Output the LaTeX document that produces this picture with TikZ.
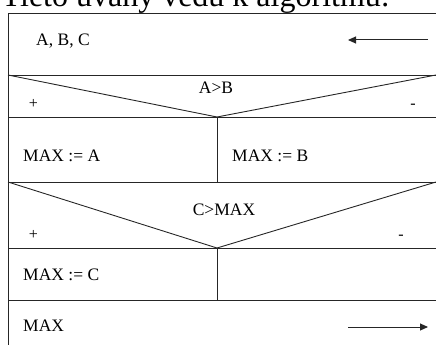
\documentclass[tikz,border=0pt]{standalone}
\usepackage{fontspec}
\setmainfont{Liberation Serif}
\usetikzlibrary{arrows.meta}
\tikzset{
  grid/.style={line width=0.9pt, draw=black!85},
  lbl/.style={inner sep=0pt, font=\fontsize{17.5}{19}\selectfont},
  sign/.style={inner sep=0pt, font=\fontsize{16}{17}\selectfont},
  flow/.style={line width=1pt, draw=black!85, -{Triangle[length=8pt,width=7pt]}}
}
\begin{document}
\begin{tikzpicture}[x=1pt,y=-1pt]
\useasboundingbox (0,0) rectangle (436,345);
% heading line (partly above the page edge)
\node[inner sep=0pt, anchor=base east, font=\fontsize{32}{35}\selectfont] (title) at (390,7) {Tieto úvahy vedú k algoritmu:};
% structogram frame and rows
\draw[grid] (437,13) -- (8,13) -- (8,346);
\draw[grid] (8,75) -- (437,75);
\draw[grid] (8,117) -- (437,117);
\draw[grid] (8,182) -- (437,182);
\draw[grid] (8,248) -- (437,248);
\draw[grid] (8,300) -- (437,300);
% decision triangles
\draw[grid] (8,75) -- (217,117) -- (436,75);
\draw[grid] (8,182) -- (217,248) -- (436,182);
% branch dividers
\draw[grid] (217,117) -- (217,182);
\draw[grid] (217,248) -- (217,300);
% input row
\node[lbl, anchor=base west] (inp) at (36,46) {A, B, C};
\coordinate (inA) at (428,40);
\coordinate (inB) at (348,40);
\draw[flow] (inA) -- (inB);
% first decision
\node[lbl, anchor=base] (c1) at (216,93) {A>B};
\node[sign] (p1) at (33.5,103.5) {+};
\node[sign] (m1) at (413,106) {-};
\node[lbl, anchor=base west] (a1) at (23,161.5) {MAX := A};
\node[lbl, anchor=base west] (b1) at (232,161.5) {MAX := B};
% second decision
\node[lbl, anchor=base] (c2) at (224,215.5) {C>MAX};
\node[sign] (p2) at (33.5,235) {+};
\node[sign] (m2) at (401,237) {-};
\node[lbl, anchor=base west] (a2) at (23,280.5) {MAX := C};
% output row
\node[lbl, anchor=base west] (out) at (23,331.5) {MAX};
\coordinate (outA) at (348,327);
\coordinate (outB) at (428,327);
\draw[flow] (outA) -- (outB);
\end{tikzpicture}
\end{document}
